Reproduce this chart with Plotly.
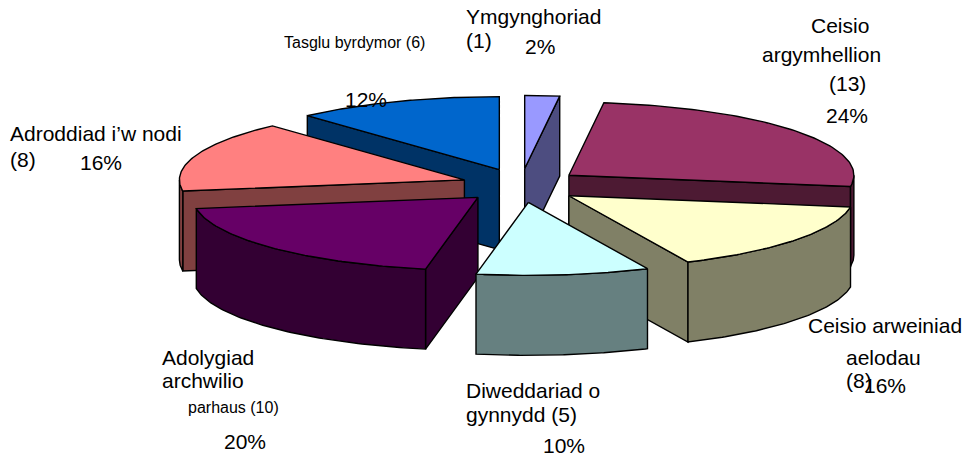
import numpy as np
import plotly.graph_objects as go

# Data
categories = ["Ymgynghoriad", "Ceisio argymhellion", "Ceisio arweiniad aelodau",
              "Diweddariad o gynnydd", "Adolygiad archwilio parhaus",
              "Adroddiad i’w nodi", "Tasglu byrdymor"]
counts = [1, 13, 8, 5, 10, 8, 6]
top_colors = ["#9999FF", "#993366", "#FFFFCC", "#CCFFFF", "#660066", "#FF8080", "#0066CC"]
side_colors = ["#4D4D80", "#4D1A33", "#808066", "#668080", "#330033", "#804040", "#003366"]
draw_order = [6, 0, 1, 5, 2, 4, 3]

# (text, x, y, size)
label_text = ["Ymgynghoriad", "(1)", "2%", "Ceisio", "argymhellion", "(13)", "24%",
              "Tasglu byrdymor (6)", "12%", "Adroddiad i’w nodi", "(8)", "16%",
              "Adolygiad", "archwilio", "parhaus (10)", "20%",
              "Diweddariad o", "gynnydd (5)", "10%",
              "Ceisio arweiniad", "aelodau", "(8)", "16%"]
label_x = [466, 466, 525, 811, 762, 829, 826, 284, 345, 10, 10, 80,
           162, 162, 188, 224, 466, 466, 543, 808, 846, 846, 864]
label_y = [16, 40, 46, 25, 54, 83, 115, 42, 99, 133, 159, 162,
           357, 380, 407, 441, 390, 414, 445, 325, 357, 380, 385]
label_size = [21, 21, 21, 21, 21, 21, 21, 16, 21, 21, 21, 21,
              21, 21, 16, 21, 21, 21, 21, 21, 21, 21, 21]

# Pie projection
CX, CY, RX, RY, DEPTH, EX, EY = 521, 185.5, 285, 73, 80, 60, 17

fractions = np.array(counts) / sum(counts)
ends = np.cumsum(fractions) * 2 * np.pi
starts = ends - fractions * 2 * np.pi

fig = go.Figure()


def poly(xs, ys, color):
    fig.add_trace(go.Scatter(x=list(xs) + [xs[0]], y=list(ys) + [ys[0]], mode="lines", fill="toself",
                             fillcolor=color, line=dict(color="black", width=1.4),
                             hoverinfo="skip", showlegend=False))


for i in draw_order:
    a0, a1 = starts[i], ends[i]
    mid = (a0 + a1) / 2
    ax = CX + EX * np.sin(mid)
    ay = CY - EY * np.cos(mid)
    th = np.linspace(a0, a1, 80)
    rx = ax + RX * np.sin(th)
    ry = ay - RY * np.cos(th)
    # radial faces that look towards the viewer
    for a, visible in ((a0, np.sin(a0) < -1e-6), (a1, np.sin(a1) > 1e-6)):
        if visible:
            ex, ey = ax + RX * np.sin(a), ay - RY * np.cos(a)
            poly([ax, ex, ex, ax], [ay, ey, ey + DEPTH, ay + DEPTH], side_colors[i])
    # outer rim, front-facing part only
    lo, hi = max(a0, np.pi / 2), min(a1, 3 * np.pi / 2)
    if hi > lo:
        t = np.linspace(lo, hi, 80)
        ox = ax + RX * np.sin(t)
        oy = ay - RY * np.cos(t)
        poly(np.r_[ox, ox[::-1]], np.r_[oy, oy[::-1] + DEPTH], side_colors[i])
    # top surface
    poly(np.r_[ax, rx], np.r_[ay, ry], top_colors[i])

for t, x, y, s in zip(label_text, label_x, label_y, label_size):
    fig.add_annotation(x=x, y=y, text=t, showarrow=False, xanchor="left", yanchor="middle",
                       xshift=-2, font=dict(family="Liberation Sans", size=s, color="black"))

fig.update_layout(width=971, height=457, margin=dict(l=0, r=0, t=0, b=0),
                  paper_bgcolor="white", plot_bgcolor="white", showlegend=False,
                  xaxis=dict(range=[0, 971], visible=False),
                  yaxis=dict(range=[457, 0], visible=False))
fig.write_html("out.html", config=dict(displayModeBar=False),
               post_script="document.body.style.margin='0';document.documentElement.style.overflow='hidden';")
